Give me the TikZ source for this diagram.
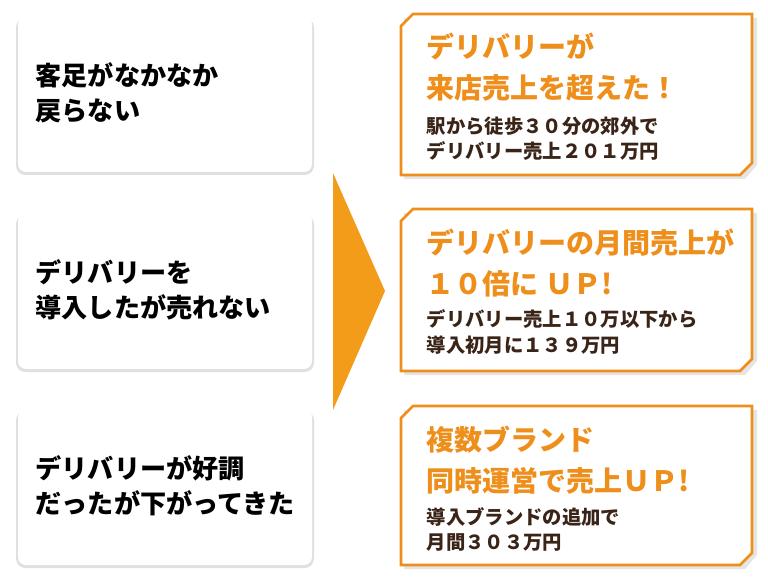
\documentclass[tikz,border=0pt]{standalone}
\usepackage{fontspec}
\setmainfont{Noto Sans CJK JP}[BoldFont={* Bold}]
\newfontfamily\jpb{Noto Sans CJK JP Black}
\definecolor{org}{HTML}{EE8F1C}
\definecolor{arr}{HTML}{F39C1A}
\definecolor{brn}{HTML}{3A2418}
\begin{document}
\begin{tikzpicture}[x=0.75pt,y=-0.75pt,
  lefttxt/.style={anchor=west,align=left,font=\jpb\fontsize{19.6}{26.5}\selectfont,text=black},
  ttl/.style={anchor=north west,align=left,font=\jpb\fontsize{21}{31}\selectfont,text=org},
  sub/.style={anchor=north west,align=left,font=\jpb\fontsize{14.5}{19}\selectfont,text=brn},
  obox/.style={draw=org,line width=2pt,fill=white}]
\useasboundingbox (0,0) rectangle (768,581);
% left boxes
\foreach \y/\h in {16/156,213/156,409/156}{
  \fill[black!12,rounded corners=7pt] (16,\y+2) rectangle (314,\y+\h+3);
  \fill[white,rounded corners=6pt] (18,\y) rectangle (312,\y+\h);
}
\node[lefttxt] (l1) at (31,93) {客足がなかなか\\戻らない};
\node[lefttxt] (l2) at (31,290) {デリバリーを\\導入したが売れない};
\node[lefttxt] (l3) at (31,486) {デリバリーが好調\\だったが下がってきた};
% arrow
\fill[arr] (333,173) -- (385,291) -- (333,410) -- cycle;
% right boxes
\foreach \y/\h in {14/161,209/162,406/159}{
  \fill[black!10] (404,\y+4) -- (414,\y+4) -- (757,\y+4) -- (757,\y+\h-10) -- (745,\y+\h+4) -- (404,\y+\h+4) -- cycle;
  \draw[obox] (413,\y) -- (752,\y) -- (752,\y+\h-12) -- (740,\y+\h) -- (401,\y+\h) -- (401,\y+12) -- cycle;
}
\node[ttl] (t1) at (422,28) {デリバリーが\\来店売上を超えた！};
\node[sub] (s1) at (422,112) {駅から徒歩３０分の郊外で\\デリバリー売上２０１万円};
\node[ttl] (t2) at (422,224) {デリバリーの月間売上が\\１０倍に ＵＰ!};
\node[sub] (s2) at (422,305) {デリバリー売上１０万以下から\\導入初月に１３９万円};
\node[ttl] (t3) at (422,421) {複数ブランド\\同時運営で売上ＵＰ!};
\node[sub] (s3) at (422,503) {導入ブランドの追加で\\月間３０３万円};
\end{tikzpicture}
\end{document}
